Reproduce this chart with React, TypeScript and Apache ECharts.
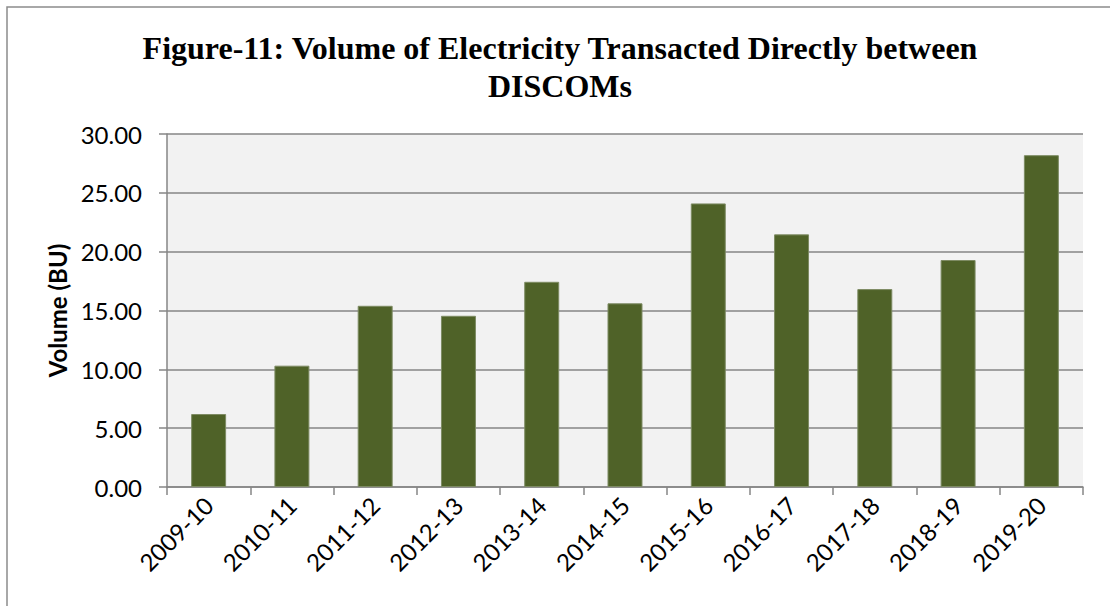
import React, { useEffect, useRef } from "react";
import * as echarts from "echarts";

const categories = [
  "2009-10", "2010-11", "2011-12", "2012-13", "2013-14", "2014-15",
  "2015-16", "2016-17", "2017-18", "2018-19", "2019-20",
];
const volumes = [6.2, 10.31, 15.4, 14.55, 17.44, 15.61, 24.1, 21.47, 16.82, 19.29, 28.2];
const titleLines = ["Figure-11: Volume of Electricity Transacted Directly between", "DISCOMs"];
const yAxisName = "Volume (BU)";

export default function App() {
  const ref = useRef<HTMLDivElement>(null);
  useEffect(() => {
    if (!ref.current) return;
    const chart = echarts.init(ref.current, null, { renderer: "svg" });
    const axisGray = "#868686";
    chart.setOption({
      animation: false,
      backgroundColor: "#ffffff",
      title: {
        text: titleLines.join("\n"),
        left: 555,
        textAlign: "center",
        top: 24,
        textStyle: {
          fontFamily: "Liberation Serif",
          fontWeight: "bold",
          fontSize: 32,
          lineHeight: 38,
          color: "#000",
        },
      },
      graphic: [
        {
          type: "rect",
          shape: { x: 7, y: 7, width: 1300, height: 800 },
          style: { fill: "none", stroke: "#8c8c8c", lineWidth: 1.5 },
          silent: true,
        },
      ],
      grid: {
        left: 167,
        right: 27,
        top: 134,
        bottom: 119,
        show: true,
        backgroundColor: "#F2F2F2",
        borderWidth: 0,
      },
      xAxis: {
        type: "category",
        data: categories,
        axisLine: { show: true, lineStyle: { color: axisGray, width: 1.5 } },
        axisTick: { show: true, length: 8, lineStyle: { color: axisGray, width: 1.5 } },
        axisLabel: {
          rotate: 45,
          margin: 14,
          interval: 0,
          fontFamily: "Lato",
          fontSize: 24,
          color: "#000",
        },
      },
      yAxis: {
        type: "value",
        min: 0,
        max: 30,
        interval: 5,
        name: yAxisName,
        nameLocation: "middle",
        nameGap: 98,
        nameRotate: 90,
        nameTextStyle: {
          fontFamily: "Lato",
          fontWeight: "bold",
          fontSize: 24,
          color: "#000",
        },
        axisLine: { show: true, lineStyle: { color: axisGray, width: 1.5 } },
        axisTick: { show: true, length: 8, lineStyle: { color: axisGray, width: 1.5 } },
        splitLine: { show: true, lineStyle: { color: axisGray, width: 1.5 } },
        axisLabel: {
          margin: 25,
          fontFamily: "Lato",
          fontSize: 24,
          color: "#000",
          formatter: (v: number) => v.toFixed(2),
        },
      },
      series: [
        {
          type: "bar",
          data: volumes,
          barWidth: "42%",
          itemStyle: { color: "#4F6228", borderColor: "#7d8b63", borderWidth: 1 },
        },
      ],
    });
    return () => chart.dispose();
  }, []);
  return (
    <div
      ref={ref}
      style={{ position: "absolute", left: 0, top: 0, width: 1110, height: 606 }}
    />
  );
}
